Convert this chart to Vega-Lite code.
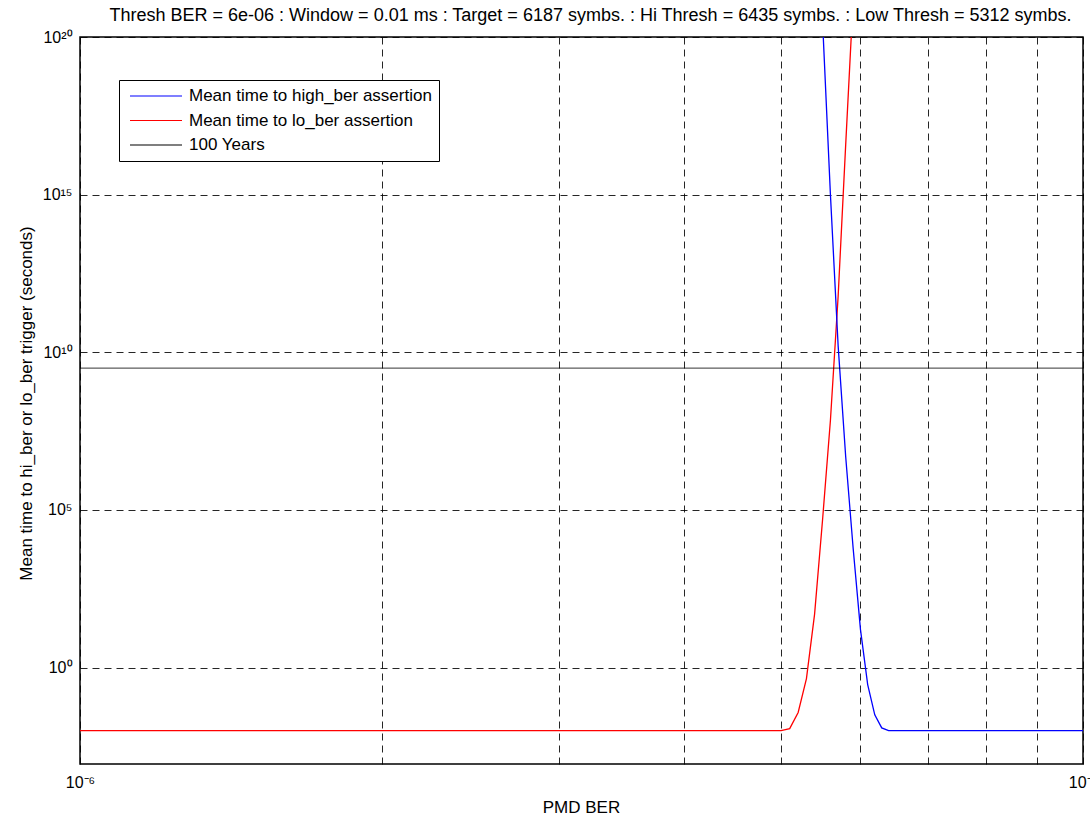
{
  "$schema": "https://vega.github.io/schema/vega-lite/v6.json",
  "width": 1003,
  "height": 727,
  "autosize": {"type": "none"},
  "padding": {"left": 80, "top": 37, "right": 7, "bottom": 51},
  "background": "white",
  "title": {
    "text": "Thresh BER = 6e-06 : Window = 0.01 ms : Target = 6187 symbs. : Hi Thresh = 6435 symbs. : Low Thresh = 5312 symbs.",
    "font": "Liberation Sans",
    "fontSize": 18,
    "fontWeight": "normal",
    "color": "#000",
    "anchor": "middle",
    "dx": 9,
    "offset": 4
  },
  "config": {
    "font": "Liberation Sans",
    "view": {"stroke": "#000", "strokeWidth": 1.5}
  },
  "datasets": {
    "curves": [
      {"ber": 1e-6, "t": 0.01, "series": "Mean time to lo_ber assertion"},
      {"ber": 1.5e-6, "t": 0.01, "series": "Mean time to lo_ber assertion"},
      {"ber": 2e-6, "t": 0.01, "series": "Mean time to lo_ber assertion"},
      {"ber": 2.5e-6, "t": 0.01, "series": "Mean time to lo_ber assertion"},
      {"ber": 3e-6, "t": 0.01, "series": "Mean time to lo_ber assertion"},
      {"ber": 3.5e-6, "t": 0.01, "series": "Mean time to lo_ber assertion"},
      {"ber": 4e-6, "t": 0.01, "series": "Mean time to lo_ber assertion"},
      {"ber": 4.5e-6, "t": 0.01, "series": "Mean time to lo_ber assertion"},
      {"ber": 5e-6, "t": 0.01, "series": "Mean time to lo_ber assertion"},
      {"ber": 5.1e-6, "t": 0.0117, "series": "Mean time to lo_ber assertion"},
      {"ber": 5.2e-6, "t": 0.038, "series": "Mean time to lo_ber assertion"},
      {"ber": 5.3e-6, "t": 0.45, "series": "Mean time to lo_ber assertion"},
      {"ber": 5.4e-6, "t": 50, "series": "Mean time to lo_ber assertion"},
      {"ber": 5.5e-6, "t": 50000, "series": "Mean time to lo_ber assertion"},
      {"ber": 5.6e-6, "t": 7e7, "series": "Mean time to lo_ber assertion"},
      {"ber": 5.7e-6, "t": 6e11, "series": "Mean time to lo_ber assertion"},
      {"ber": 5.8e-6, "t": 4e16, "series": "Mean time to lo_ber assertion"},
      {"ber": 5.9e-6, "t": 1.6e21, "series": "Mean time to lo_ber assertion"},
      {"ber": 6e-6, "t": 5e25, "series": "Mean time to lo_ber assertion"},
      {"ber": 5.3e-6, "t": 1e31, "series": "Mean time to high_ber assertion"},
      {"ber": 5.4e-6, "t": 1e26, "series": "Mean time to high_ber assertion"},
      {"ber": 5.5e-6, "t": 3e20, "series": "Mean time to high_ber assertion"},
      {"ber": 5.6e-6, "t": 1e15, "series": "Mean time to high_ber assertion"},
      {"ber": 5.7e-6, "t": 1.6e10, "series": "Mean time to high_ber assertion"},
      {"ber": 5.8e-6, "t": 4.8e6, "series": "Mean time to high_ber assertion"},
      {"ber": 5.9e-6, "t": 6000, "series": "Mean time to high_ber assertion"},
      {"ber": 6e-6, "t": 16, "series": "Mean time to high_ber assertion"},
      {"ber": 6.1e-6, "t": 0.29, "series": "Mean time to high_ber assertion"},
      {"ber": 6.2e-6, "t": 0.032, "series": "Mean time to high_ber assertion"},
      {"ber": 6.3e-6, "t": 0.0123, "series": "Mean time to high_ber assertion"},
      {"ber": 6.4e-6, "t": 0.01, "series": "Mean time to high_ber assertion"},
      {"ber": 7e-6, "t": 0.01, "series": "Mean time to high_ber assertion"},
      {"ber": 7.5e-6, "t": 0.01, "series": "Mean time to high_ber assertion"},
      {"ber": 8e-6, "t": 0.01, "series": "Mean time to high_ber assertion"},
      {"ber": 8.5e-6, "t": 0.01, "series": "Mean time to high_ber assertion"},
      {"ber": 9e-6, "t": 0.01, "series": "Mean time to high_ber assertion"},
      {"ber": 9.5e-6, "t": 0.01, "series": "Mean time to high_ber assertion"},
      {"ber": 1e-5, "t": 0.01, "series": "Mean time to high_ber assertion"}
    ],
    "ref": [
      {"t": 3.156e9, "series": "100 Years"}
    ]
  },
  "layer": [
    {
      "data": {"name": "curves"},
      "mark": {"type": "line", "clip": true, "strokeWidth": 1.3},
      "encoding": {
        "x": {
          "field": "ber",
          "type": "quantitative",
          "scale": {"type": "log", "domain": [1e-6, 1e-5], "nice": false},
          "axis": {
            "values": [1e-6, 2e-6, 3e-6, 4e-6, 5e-6, 6e-6, 7e-6, 8e-6, 9e-6, 1e-5],
            "labelExpr": "datum.value < 1.5e-6 ? '10⁻⁶' : (datum.value > 9.5e-6 ? '10⁻⁵' : '')",
            "labelOverlap": false,
            "labelFlush": false,
            "labelFont": "Liberation Sans",
            "labelFontSize": 16,
            "labelColor": "#000",
            "labelPadding": 10,
            "ticks": false,
            "domain": false,
            "grid": true,
            "gridColor": "#000",
            "gridDash": [7, 5],
            "gridWidth": 1,
            "gridOpacity": 0.85,
            "title": "PMD BER",
            "titleFont": "Liberation Sans",
            "titleFontSize": 17,
            "titleFontWeight": "normal",
            "titleColor": "#000",
            "titleX": 501,
            "titleY": 43,
            "titleBaseline": "middle",
            "titleAlign": "center"
          }
        },
        "y": {
          "field": "t",
          "type": "quantitative",
          "scale": {"type": "log", "domain": [0.00088, 1e20], "nice": false},
          "axis": {
            "values": [1, 100000, 10000000000, 1e15, 1e20],
            "labelExpr": "'10' + (round(log(datum.value)/LN10) == 20 ? '²⁰' : (round(log(datum.value)/LN10) == 15 ? '¹⁵' : (round(log(datum.value)/LN10) == 10 ? '¹⁰' : (round(log(datum.value)/LN10) == 5 ? '⁵' : '⁰'))))",
            "labelOverlap": false,
            "labelFont": "Liberation Sans",
            "labelFontSize": 16,
            "labelColor": "#000",
            "labelPadding": 8,
            "ticks": false,
            "domain": false,
            "grid": true,
            "gridColor": "#000",
            "gridDash": [7, 5],
            "gridWidth": 1,
            "gridOpacity": 0.85,
            "title": "Mean time to hi_ber or lo_ber trigger (seconds)",
            "titleFont": "Liberation Sans",
            "titleFontSize": 17,
            "titleFontWeight": "normal",
            "titleColor": "#000",
            "titleAngle": -90,
            "titleX": -49,
            "titleY": 366,
            "titleBaseline": "alphabetic",
            "titleAlign": "center"
          }
        },
        "color": {
          "field": "series",
          "type": "nominal",
          "scale": {
            "domain": ["Mean time to high_ber assertion", "Mean time to lo_ber assertion", "100 Years"],
            "range": ["#0000ff", "#ff0000", "#000000"]
          },
          "legend": {
            "orient": "none",
            "legendX": 39,
            "legendY": 43,
            "title": null,
            "symbolType": "stroke",
            "symbolSize": 2704,
            "symbolStrokeWidth": 1.2,
            "symbolOpacity": 1,
            "clipHeight": 18,
            "rowPadding": 6.5,
            "labelFont": "Liberation Sans",
            "labelFontSize": 17,
            "labelColor": "#000",
            "labelOffset": 6,
            "labelLimit": 400,
            "symbolOffset": 3,
            "strokeColor": "#000",
            "fillColor": "#fff",
            "padding": 7
          }
        }
      }
    },
    {
      "data": {"name": "ref"},
      "mark": {"type": "rule", "strokeWidth": 0.8},
      "encoding": {
        "y": {"field": "t", "type": "quantitative"},
        "color": {"field": "series", "type": "nominal", "legend": null}
      }
    }
  ]
}
